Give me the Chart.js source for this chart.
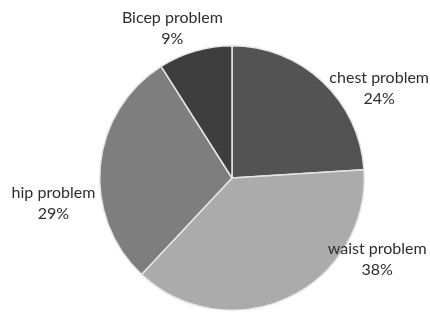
<!DOCTYPE html>
<html><head><meta charset="utf-8">
<script src="https://cdn.jsdelivr.net/npm/chart.js@4/dist/chart.umd.min.js"></script>
<style>html,body{margin:0;padding:0;background:#fff;}#wrap{width:430px;height:320px;}</style>
</head><body><div id="wrap"><canvas id="c" width="430" height="320"></canvas></div>
<script>
const categories = ["chest problem", "waist problem", "hip problem", "Bicep problem"];
const values = [24, 38, 29, 9];
const percentLabels = ["24%", "38%", "29%", "9%"];
const colors = ["#535353", "#ababab", "#7e7e7e", "#3e3e3e"];
// label anchor offsets relative to pie center, in units of radius
const labelOffsets = [[1.113, -0.68], [1.098, 0.617], [-1.35, 0.188], [-0.451, -1.132]];

const labelPlugin = {
  id: 'pieLabels',
  afterDatasetsDraw(chart) {
    const ctx = chart.ctx;
    const meta = chart.getDatasetMeta(0);
    const arc = meta.data[0];
    const cx = arc.x, cy = arc.y, r = arc.outerRadius;
    ctx.save();
    ctx.font = '16px Lato, "Open Sans", sans-serif';
    ctx.fillStyle = '#2e2e2e';
    ctx.textAlign = 'center';
    ctx.textBaseline = 'middle';
    categories.forEach((name, i) => {
      const x = cx + labelOffsets[i][0] * r;
      const y = cy + labelOffsets[i][1] * r;
      ctx.fillText(name, x, y - 10.5);
      ctx.fillText(percentLabels[i], x, y + 10.5);
    });
    ctx.restore();
  }
};

new Chart(document.getElementById('c'), {
  type: 'pie',
  data: {
    labels: categories,
    datasets: [{
      data: values,
      backgroundColor: colors,
      borderColor: '#e6e6e6',
      borderWidth: 1.5
    }]
  },
  options: {
    responsive: false,
    animation: false,
    layout: { padding: { top: 45, bottom: 9, left: 99, right: 65 } },
    plugins: { legend: { display: false }, tooltip: { enabled: false } }
  },
  plugins: [labelPlugin]
});
</script>
</body></html>
